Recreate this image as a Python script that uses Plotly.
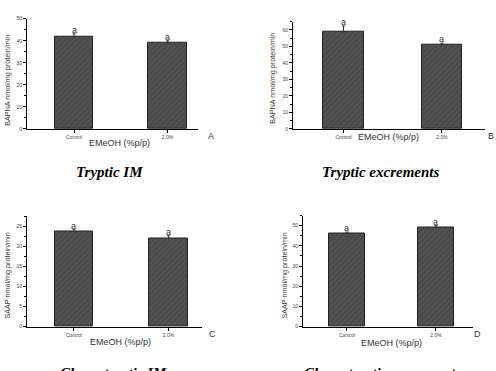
import plotly.graph_objects as go

categories = ["Control", "2.0%"]
vals_a = [42.0, 39.0]
err_a = [1.2, 1.0]
vals_b = [58.8, 51.0]
err_b = [3.6, 1.0]
vals_c = [23.7, 22.0]
err_c = [0.5, 0.7]
vals_d = [46.0, 49.0]
err_d = [0.8, 1.0]
sig_labels = ["a", "a"]
panel_letters = ["A", "B", "C", "D"]
titles = ["Tryptic IM", "Tryptic excrements", "Chymotryptic IM", "Chymotryptic excrements"]
ylabels = ["BAPNA nmol/mg protein/min", "BAPNA nmol/mg protein/min",
           "SAAP nmol/mg protein/min", "SAAP nmol/mg protein/min"]
xlabel = "EMeOH (%p/p)"

W, H = 496, 371

def px(x):
    return x / W

def py(y):
    return 1 - y / H

# panel geometry (pixels)
panels = [
    dict(v=vals_a, e=err_a, x0=27, x1=198, yt=16, yb=128, xr=[-0.503, 1.326], yr=[0, 50], dt=10, bw=0.41,
         ylab=(8, 79), xlab=(119, 142), let=(211, 135), tit=(109, 172)),
    dict(v=vals_b, e=err_b, x0=293, x1=485, yt=19, yb=128, xr=[-0.513, 1.437], yr=[0, 65], dt=10, bw=0.41,
         ylab=(273, 77), xlab=(388, 136), let=(491, 135), tit=(380, 172)),
    dict(v=vals_c, e=err_c, x0=27, x1=202, yt=217, yb=329, xr=[-0.497, 1.354], yr=[0, 27.5], dt=5, bw=0.41,
         ylab=(8, 277), xlab=(120, 345), let=(212, 336), tit=(113, 376)),
    dict(v=vals_d, e=err_d, x0=303, x1=473, yt=216, yb=329, xr=[-0.494, 1.416], yr=[0, 55], dt=10, bw=0.40,
         ylab=(285, 277), xlab=(391, 346), let=(477, 336), tit=(382, 376)),
]

fig = go.Figure()
annotations = []

def paper_note(x, y, text, size, family="Arial", color="#333", angle=0):
    return dict(x=px(x), y=py(y), xref="paper", yref="paper", text=text, textangle=angle,
                showarrow=False, xanchor="center", yanchor="middle",
                font=dict(size=size, family=family, color=color))

for i, p in enumerate(panels):
    n = "" if i == 0 else str(i + 1)
    fig.add_trace(go.Bar(
        x=categories, y=p["v"], width=p["bw"],
        xaxis="x" + n, yaxis="y" + n,
        marker=dict(color="#505050", line=dict(color="#222222", width=1),
                    pattern=dict(shape="/", fgcolor="#626262", bgcolor="#4a4a4a", size=4, solidity=0.3)),
        error_y=dict(type="data", symmetric=False, array=p["e"], arrayminus=[0, 0],
                     color="#333333", thickness=1, width=1.5),
        showlegend=False,
    ))
    axis_common = dict(showline=True, linecolor="black", linewidth=1, ticks="outside",
                       tickcolor="black", ticklen=3, tickfont=dict(size=5, family="Arial", color="#444"),
                       showgrid=False, zeroline=False, fixedrange=True)
    fig.layout["xaxis" + n] = dict(domain=[px(p["x0"]), px(p["x1"])], anchor="y" + n,
                                   type="category", range=p["xr"], **axis_common)
    fig.layout["yaxis" + n] = dict(domain=[py(p["yb"]), py(p["yt"])], anchor="x" + n,
                                   range=p["yr"], dtick=p["dt"], tick0=0,
                                   minor=dict(ticks="outside", ticklen=2, tickcolor="black", dtick=p["dt"] / 2),
                                   **axis_common)
    for c, v, e, s in zip(categories, p["v"], p["e"], sig_labels):
        annotations.append(dict(x=c, y=v + e, xref="x" + n, yref="y" + n, text=s, showarrow=False,
                                xanchor="center", yanchor="bottom", yshift=-3,
                                font=dict(size=9, family="Arial", color="#333")))
    annotations.append(paper_note(p["ylab"][0], p["ylab"][1], ylabels[i], 7.2, angle=-90))
    annotations.append(paper_note(p["xlab"][0], p["xlab"][1], xlabel, 9))
    annotations.append(paper_note(p["let"][0], p["let"][1], panel_letters[i], 9))
    annotations.append(paper_note(p["tit"][0], p["tit"][1], "<b><i>" + titles[i] + "</i></b>", 15,
                                  family="Liberation Serif", color="black"))

fig.update_layout(width=W, height=H, margin=dict(l=0, r=0, t=0, b=0),
                  paper_bgcolor="white", plot_bgcolor="white", annotations=annotations,
                  bargap=0)
fig.write_html("out.html")
